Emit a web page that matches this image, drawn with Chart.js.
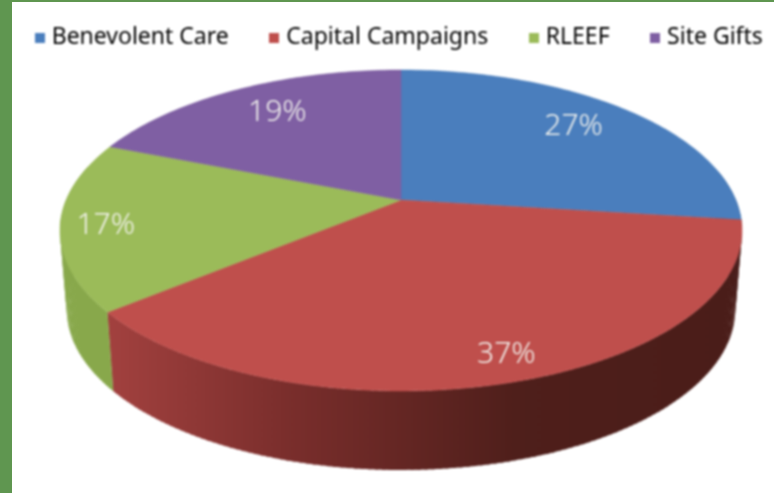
<!DOCTYPE html>
<html lang="en">
<head>
    <meta charset="UTF-8">
    <title>Giving by fund</title>
    <script src="https://cdn.jsdelivr.net/npm/chart.js"></script>
    <style>
        * { margin: 0; padding: 0; box-sizing: border-box; }
        html, body { width: 774px; height: 493px; overflow: hidden; background: #fff; }
        .frame { position: absolute; left: 0; top: 0; width: 774px; height: 493px;
                 border-left: 12px solid #5f9650; border-top: 2px solid #5f9650; }
        canvas { position: absolute; left: 0; top: 0; filter: blur(0.8px); }
    </style>
</head>
<body>
    <div class="frame"></div>
    <canvas id="pie" width="774" height="493"></canvas>

    <script>
        const categories = ['Benevolent Care', 'Capital Campaigns', 'RLEEF', 'Site Gifts'];
        const shares = [27, 37, 17, 19];
        const sliceColors = ['#4a7ebd', '#bf4f4c', '#9bbb59', '#7f5fa3'];

        // where each label sits: 0 centre to 1 rim, and degrees off the slice middle
        const labelRadius = [0.77, 0.88, 0.87, 0.76];
        const labelTurn = [-1.2, -1.3, -1.4, 1.2];

        // wall shading, left to right, only the front slices show one
        const wallStops = [
            ['#2f4f7a', '#2f4f7a'],
            ['#ad4644', '#7a2e2c', '#4f1f1b', '#4a1d19'],
            ['#88a84b', '#8cac4d'],
            ['#50386e', '#50386e']
        ];

        // the tilted disc: unit circle -> page, centre lands above the ellipse middle
        const disc = { cx: 401, cy: 200, sx: 334.8, sy: 116.7, tilt: -0.19 };
        const wall = { shiftY: 79, shrink: 0.98 };

        function innerPoint(a, r) {
            const u = r * Math.cos(a), v = r * Math.sin(a);
            const w = 1 + disc.tilt * v;
            return [disc.cx + disc.sx * u / w, (disc.cy + disc.sy * v) / w];
        }

        function topPoint(a) {
            return innerPoint(a, 1);
        }

        function basePoint(a) {
            const p = topPoint(a);
            return [disc.cx + (p[0] - disc.cx) * wall.shrink, p[1] + wall.shiftY];
        }

        const tiltedPie = {
            id: 'tiltedPie',
            beforeDatasetsDraw(chart) {
                const ctx = chart.ctx;
                const arcs = chart.getDatasetMeta(0).data;
                const step = Math.PI / 180;

                // walls first, one overlapping strip per degree
                arcs.forEach((arc, i) => {
                    const g = ctx.createLinearGradient(60, 0, 742, 0);
                    const stops = wallStops[i];
                    stops.forEach((c, k) => g.addColorStop(k / (stops.length - 1), c));
                    ctx.fillStyle = g;
                    for (let a = arc.startAngle; a < arc.endAngle; a += step) {
                        if (Math.sin(a) < -0.2) continue;
                        const b = Math.min(a + step * 1.5, arc.endAngle);
                        const p1 = topPoint(a), p2 = topPoint(b), p3 = basePoint(b), p4 = basePoint(a);
                        ctx.beginPath();
                        ctx.moveTo(p1[0], p1[1]);
                        ctx.lineTo(p2[0], p2[1]);
                        ctx.lineTo(p3[0], p3[1]);
                        ctx.lineTo(p4[0], p4[1]);
                        ctx.closePath();
                        ctx.fill();
                    }
                });

                // top faces
                arcs.forEach((arc, i) => {
                    ctx.beginPath();
                    ctx.moveTo(disc.cx, disc.cy);
                    for (let a = arc.startAngle; a < arc.endAngle; a += step) {
                        const p = topPoint(a);
                        ctx.lineTo(p[0], p[1]);
                    }
                    const end = topPoint(arc.endAngle);
                    ctx.lineTo(end[0], end[1]);
                    ctx.closePath();
                    ctx.fillStyle = sliceColors[i];
                    ctx.strokeStyle = sliceColors[i];
                    ctx.lineWidth = 0.5;
                    ctx.fill();
                    ctx.stroke();
                });

                // percent labels
                ctx.font = '300 30px "Noto Sans"';
                ctx.fillStyle = '#f3f3ee';
                ctx.textAlign = 'center';
                ctx.textBaseline = 'middle';
                arcs.forEach((arc, i) => {
                    const mid = (arc.startAngle + arc.endAngle) / 2 + labelTurn[i] * step;
                    const p = innerPoint(mid, labelRadius[i]);
                    ctx.fillText(shares[i] + '%', p[0], p[1]);
                });

                return false; // the flat pie is not drawn
            }
        };

        function squareMark(color) {
            const c = document.createElement('canvas');
            c.width = 10;
            c.height = 10;
            const g = c.getContext('2d');
            g.fillStyle = color;
            g.fillRect(0, 0, 10, 10);
            return c;
        }

        new Chart(document.getElementById('pie'), {
            type: 'pie',
            data: {
                labels: categories,
                datasets: [{ data: shares, backgroundColor: sliceColors, borderWidth: 0 }]
            },
            plugins: [tiltedPie],
            options: {
                responsive: false,
                animation: false,
                // negative sides keep the wide legend on one row
                layout: { padding: { top: -19, left: -19, right: -47 } },
                plugins: {
                    tooltip: { enabled: false },
                    legend: {
                        position: 'top',
                        labels: {
                            usePointStyle: true,
                            pointStyleWidth: 1,
                            boxHeight: 10,
                            padding: 45,
                            color: '#565656',
                            font: { family: '"Noto Sans"', size: 23 },
                            generateLabels(chart) {
                                return categories.map((name, i) => ({
                                    text: name,
                                    fillStyle: sliceColors[i],
                                    strokeStyle: sliceColors[i],
                                    lineWidth: 0,
                                    pointStyle: squareMark(sliceColors[i]),
                                    hidden: false,
                                    index: i
                                }));
                            }
                        }
                    }
                }
            }
        });
    </script>
</body>
</html>
